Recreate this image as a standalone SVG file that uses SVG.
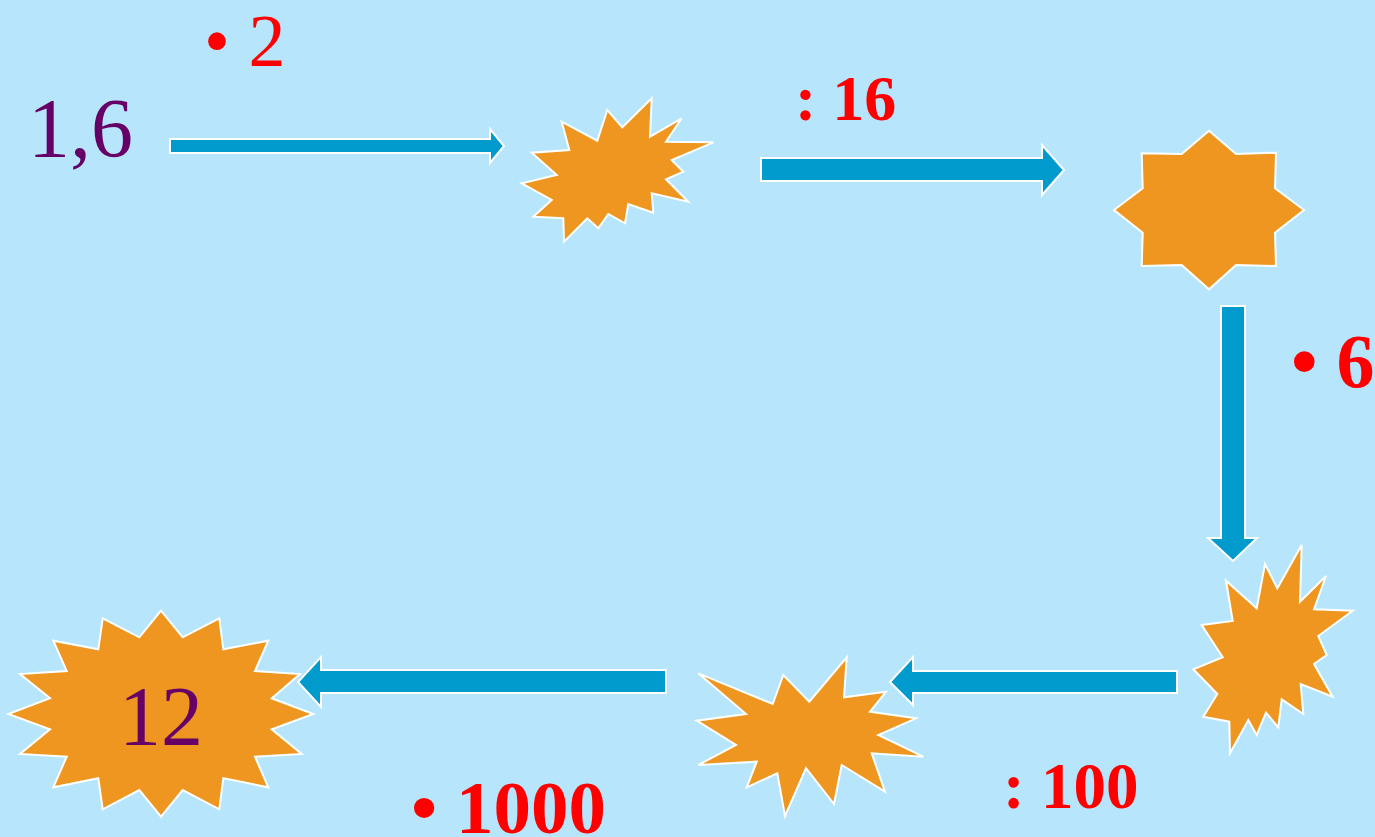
<svg xmlns="http://www.w3.org/2000/svg" width="1375" height="837" viewBox="0 0 1375 837">
<style>
.star{fill:#EE961F;stroke:#FFFFFF;stroke-width:2;stroke-linejoin:miter}
.arrow{fill:#009BCC;stroke:#FFFFFF;stroke-width:2}
.num{font-family:"Liberation Serif","Times New Roman",serif;fill:#660066;font-size:84px}
.op{font-family:"Liberation Serif","Times New Roman",serif;fill:#FF0000}
.b{font-weight:bold}
</style>
<rect x="0" y="0" width="1375" height="837" fill="#B7E6FC"/>
<g id="connectors">
<polygon class="arrow" points="170,139 490,139 490,129 504,146 490,163 490,153 170,153"/>
<polygon class="arrow" points="761,158 1042,158 1042,145 1064,170 1042,195 1042,181 761,181"/>
<polygon class="arrow" points="1221,306 1245,306 1245,538 1257,538 1233,561 1208,538 1221,538"/>
<polygon class="arrow" points="1177,671 913,671 913,657 890,682 913,705 913,693 1177,693"/>
<polygon class="arrow" points="666,670 321,670 321,657 298,682 321,707 321,693 666,693"/>
</g>
<g id="labels">
<text class="op" x="204" y="66" font-size="74">• 2</text>
<text class="op b" x="795" y="120" font-size="64">: 16</text>
<text class="op b" x="1291" y="387" font-size="76">• 6</text>
<text class="op b" x="1003" y="808" font-size="65">: 100</text>
<text class="op b" x="411" y="833" font-size="75">• 1000</text>
</g>
<g id="start">
<text class="num" x="28" y="157">1,6</text>
</g>
<g id="star1">
<polygon class="star" points="651.7,98.3 650,136.7 681.7,118.3 666,141.7 713.3,142.3 671.7,160 683.3,171.7 666,179.3 688.3,201.7 651.7,193.3 653.3,212.7 628.3,204 625,223.3 608.3,214 598.3,228.3 587.3,218.3 564,241.7 563.3,218.3 533.3,216.7 551.7,200 521.7,183.3 556.7,175 531.7,152.7 569.3,150 561.7,121.7 597.3,140.7 607.3,110 622.3,127.3"/>
</g>
<g id="star2">
<polygon class="star" points="1209,130.7 1236,154 1276,152.7 1275,188.3 1304,210 1275,232.7 1276,266 1236,265 1209,289.3 1181.7,265 1141.7,266 1142.7,232.7 1114,210 1142.7,188.3 1141.7,153.3 1181.7,154"/>
</g>
<g id="star3">
<polygon class="star" points="1301.7,545 1300,601.7 1326,576 1314,609.3 1352.7,610.7 1318.3,636 1326.7,655 1314,664 1332.7,696.7 1300.7,684 1303.3,714 1281.7,699.3 1278.3,727.3 1266,712.7 1256.7,735 1248.3,720 1230,753.3 1229.3,721.7 1203.3,716.7 1217.3,694 1193.3,669.3 1222.7,657.3 1201.7,625 1232.7,621 1226,580.7 1256.7,608.3 1265,564 1277.3,588.3"/>
</g>
<g id="star4">
<polygon class="star" points="846.7,657.3 844,697.3 886,691.7 870,711.7 916,718.3 878.3,735 923.3,756.7 871.7,753.3 885,791.7 841.7,765 834,804 806,768.3 785,816 777.3,773.3 746.7,787.3 756.7,761.7 698.3,765 736,745 696.7,720.7 746,714 698.3,673.3 772.7,704 783.3,675 809.3,701.7"/>
</g>
<g id="star5">
<polygon class="star" points="161,610.7 182.7,637.3 219.3,618.3 223.3,649.3 268.3,640.7 255,671 300,674 271.7,698.3 313.3,714 271.7,729.3 301.7,754 255,756.7 268.3,787.3 223.3,778.3 219.3,809.3 182.7,790 161,816.7 139.3,790 102.7,809.3 98.3,778.3 53.3,787.3 66.7,756.7 20,754 50,729.3 8.3,714 50,698.3 20,674 66.7,671 53.3,640.7 98.3,649.3 102.7,618.3 139.3,637.3"/>
<text class="num" x="161" y="745" text-anchor="middle">12</text>
</g>
</svg>
